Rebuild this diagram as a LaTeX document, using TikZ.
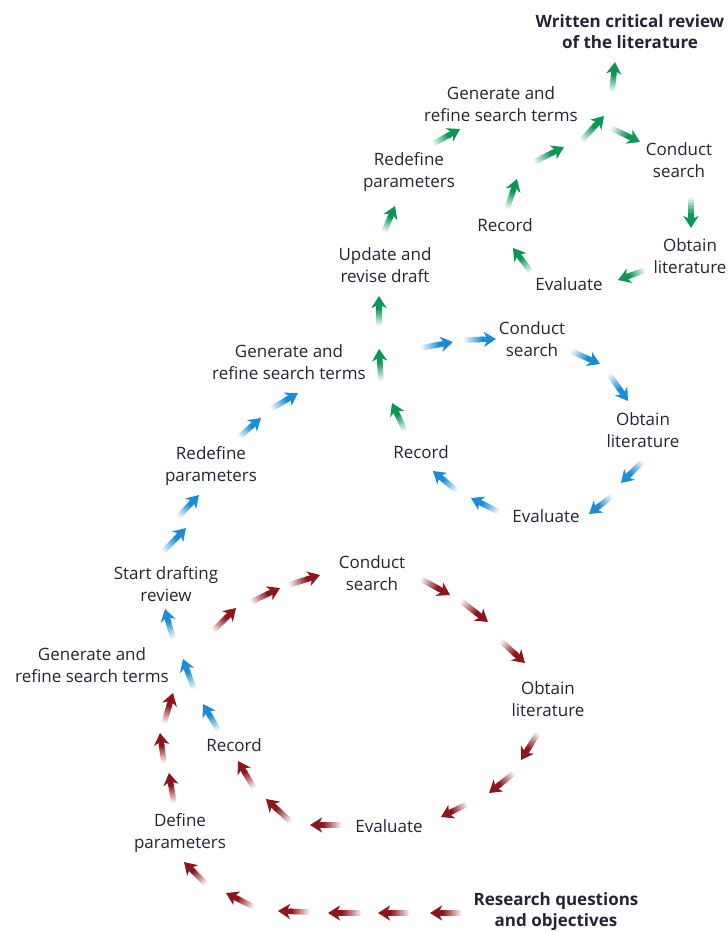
\documentclass[tikz,border=0pt]{standalone}
\usepackage{fontspec}
\setmainfont{Open Sans}
\usetikzlibrary{arrows.meta,calc}

\definecolor{redflow}{RGB}{140,22,28}
\definecolor{blueflow}{RGB}{28,140,215}
\definecolor{greenflow}{RGB}{10,150,85}
\definecolor{txt}{RGB}{38,36,52}

\tikzset{
  stage/.style={align=center, inner sep=0pt, text=txt,
    font=\fontsize{17}{22}\selectfont},
  goal/.style={stage, font=\fontsize{17}{21}\selectfont\bfseries},
  shaft/.style={line width=5.5pt},
}

% short arrow with a faded tail: colour, tail, tip
\newcommand\flowarrow[3]{%
  \foreach \i in {0,...,11}{
    \pgfmathsetmacro\fa{\i*0.05}
    \pgfmathsetmacro\fb{\i*0.05+0.07}
    \pgfmathsetmacro\sh{int(6+\i*8.5)}
    \draw[shaft, #1!\sh] ($#2!\fa!#3$) -- ($#2!\fb!#3$);
  }
  \draw[shaft, #1, -{Stealth[length=12pt,width=15pt,inset=3.5pt]}]
    ($#2!0.58!#3$) -- #3;
}

\begin{document}
\begin{tikzpicture}[x=1pt,y=-1pt]
  \useasboundingbox (0,0) rectangle (728,932);

  % first cycle
  \node[goal]  (quest)  at (556,912) {Research questions\\and objectives};
  \node[stage] (define) at (180,833) {Define\\parameters};
  \node[stage] (gen1)   at (92,665)  {Generate and\\refine search terms};
  \node[stage] (draft)  at (166,584) {Start drafting\\review};
  \node[stage] (cs1)    at (372,573) {Conduct\\search};
  \node[stage] (ol1)    at (548,699) {Obtain\\literature};
  \node[stage] (ev1)    at (389,826) {Evaluate};
  \node[stage] (rec1)   at (234,745) {Record};

  % second cycle
  \node[stage] (redef2) at (211,466) {Redefine\\parameters};
  \node[stage] (gen2)   at (289,362) {Generate and\\refine search terms};
  \node[stage] (cs2)    at (532,339) {Conduct\\search};
  \node[stage] (ol2)    at (643,430) {Obtain\\literature};
  \node[stage] (ev2)    at (546,516) {Evaluate};
  \node[stage] (rec2)   at (421,452) {Record};

  % third cycle
  \node[stage] (update) at (385,265) {Update and\\revise draft};
  \node[stage] (redef3) at (409,172) {Redefine\\parameters};
  \node[stage] (gen3)   at (501,104) {Generate and\\refine search terms};
  \node[stage] (cs3)    at (679,160) {Conduct\\search};
  \node[stage] (ol3)    at (690,256) {Obtain\\literature};
  \node[stage] (ev3)    at (569,284) {Evaluate};
  \node[stage] (rec3)   at (505,225) {Record};
  \node[goal]  (review) at (630,32)  {Written critical review\\of the literature};

  \foreach \xa/\ya/\xb/\yb in {462/913/430/913, 410/913/378/913, 362/913/328/913,
      310/912/278/911, 254/907/226/893, 206/884/184/862, 174/803/169/773,
      164/763/160/733, 164/723/173/693, 213/631/236/608, 251/602/280/588,
      289/585/320/575, 421/579/450/595, 461/601/488/622, 501/641/525/663,
      538/733/521/760, 514/773/489/793, 467/804/441/817, 342/825/310/825,
      291/822/266/799, 254/788/238/761}
    \flowarrow{redflow}{(\xa,\ya)}{(\xb,\yb)};

  \foreach \xa/\ya/\xb/\yb in {219/731/203/704, 194/689/183/659, 173/639/165/609,
      163/552/186/528, 178/517/199/495, 239/437/261/418, 271/409/298/393,
      421/348/453/342, 464/340/496/339, 571/351/600/364, 609/374/628/401,
      643/461/621/483, 612/496/589/514, 499/512/471/498, 457/491/433/471}
    \flowarrow{blueflow}{(\xa,\ya)}{(\xb,\yb)};

  \foreach \xa/\ya/\xb/\yb in {405/431/392/403, 381/381/379/349, 379/326/379/296,
      384/232/395/206, 433/144/460/129, 534/162/564/147, 581/141/604/116,
      612/92/615/62, 611/128/640/142, 691/197/691/228, 645/270/618/280,
      531/272/513/248, 507/209/517/179}
    \flowarrow{greenflow}{(\xa,\ya)}{(\xb,\yb)};
\end{tikzpicture}
\end{document}
